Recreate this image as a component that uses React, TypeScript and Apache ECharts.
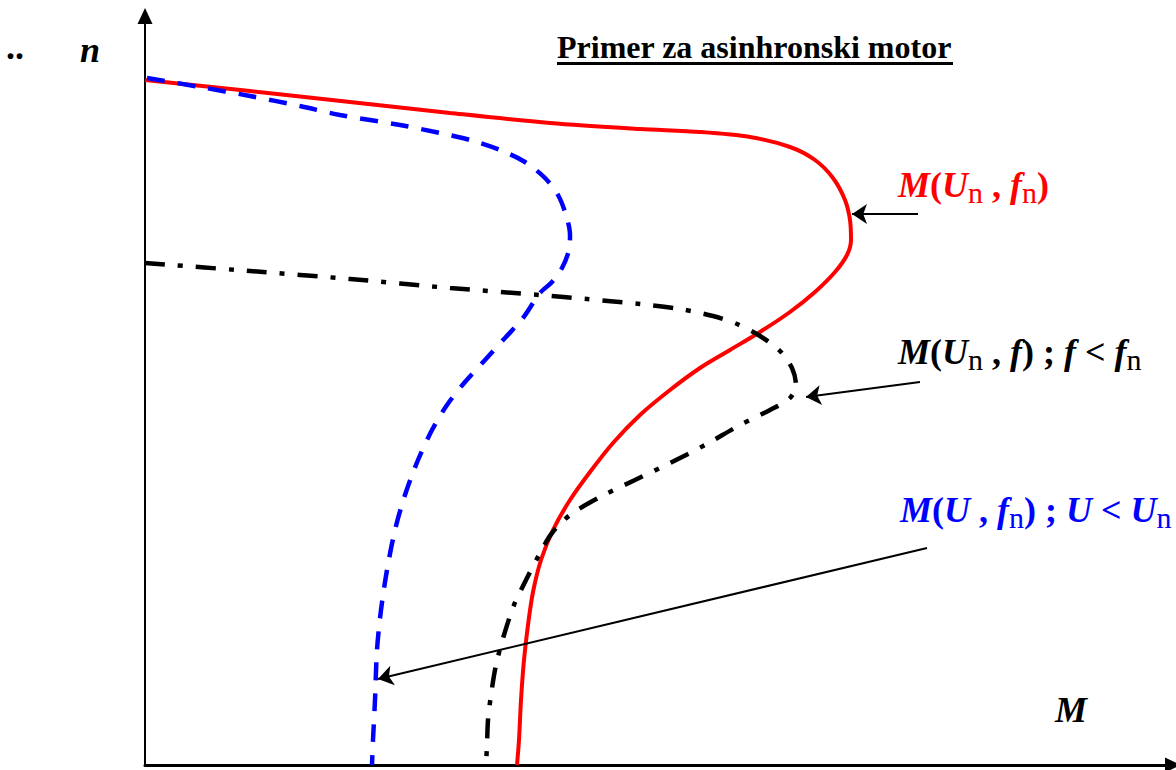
import React, { useEffect, useRef } from "react";
import * as echarts from "echarts";

// Torque–speed characteristics of an induction motor: [M, n] pairs
const nominalCurve: [number, number][] = [
  [0, 685], [105, 674], [205, 663], [305, 652], [405, 642], [495, 636], [555, 633],
  [605, 628], [645, 618], [670, 605], [688, 587], [700, 565], [705, 545], [706, 525],
  [702, 510], [690, 493], [670, 473], [645, 453], [615, 433], [585, 415], [555, 397],
  [525, 375], [495, 350], [468, 322], [445, 293], [425, 265], [408, 235], [396, 205],
  [388, 173], [383, 140], [379, 105], [376, 65], [374, 25], [372, 0],
];

const reducedVoltageCurve: [number, number][] = [
  [2, 687], [55, 678], [105, 669], [155, 659], [195, 650], [255, 640], [295, 632],
  [325, 625], [355, 615], [380, 603], [400, 587], [413, 570], [421, 550], [425, 530],
  [424, 515], [417, 497], [407, 483], [395, 472], [378, 447], [360, 427], [340, 405],
  [320, 383], [302, 360], [287, 335], [273, 305], [260, 270], [250, 235], [242, 195],
  [236, 155], [232, 115], [230, 65], [228, 25], [227, 0],
];

const reducedFrequencyCurve: [number, number][] = [
  [0, 502], [105, 494], [205, 486], [305, 477], [395, 470], [442, 466], [495, 461],
  [535, 456], [568, 449], [592, 441], [615, 429], [635, 414], [647, 397], [651, 380],
  [645, 367], [625, 355], [595, 340], [560, 320], [525, 302], [490, 285], [455, 268],
  [425, 250], [407, 232], [394, 210], [381, 185], [369, 160], [359, 130], [351, 100],
  [346, 70], [343, 45], [342, 20], [341, 0],
];

// Pointer arrows from each label to its curve: [from, to]
const pointers: [number, number][][] = [
  [[773, 551], [707, 551]],
  [[775, 383], [661, 368]],
  [[782, 217], [233, 86]],
];

const axisMax = { M: 1023, n: 749 };

const titleText = "Primer za asinhronski motor";
const nominalLabel = "{b|M}{p|(}{b|U}{s|n}{p| , }{b|f}{s|n}{p|)}";
const frequencyLabel = "{b|M}{p|(}{b|U}{s|n}{p| , }{b|f}{p|) ; }{b|f}{p| < }{b|f}{s|n}";
const voltageLabel = "{b|M}{p|(}{b|U}{p| , }{b|f}{s|n}{p|) ; }{b|U}{p| < }{b|U}{s|n}";

const SERIF = "'Liberation Serif', 'Times New Roman', serif";

function richFor(color: string) {
  return {
    b: {
      fontFamily: SERIF,
      fontSize: 36,
      fontWeight: "bold",
      fontStyle: "italic",
      lineHeight: 44,
      fill: color,
      verticalAlign: "middle",
    },
    p: {
      fontFamily: SERIF,
      fontSize: 36,
      fontWeight: "bold",
      lineHeight: 44,
      fill: color,
      verticalAlign: "middle",
    },
    s: {
      fontFamily: SERIF,
      fontSize: 30,
      fontWeight: "normal",
      lineHeight: 30,
      fill: color,
      verticalAlign: "bottom",
    },
  };
}

export default function App() {
  const ref = useRef<HTMLDivElement>(null);

  useEffect(() => {
    if (!ref.current) return;
    const chart = echarts.init(ref.current, null, { renderer: "svg" });

    chart.setOption({
      animation: false,
      backgroundColor: "#ffffff",
      grid: { left: 145, right: 8, top: 16, bottom: 5 },
      xAxis: {
        type: "value",
        min: 0,
        max: axisMax.M,
        axisLine: {
          show: true,
          lineStyle: { color: "#000", width: 3 },
          symbol: ["none", "triangle"],
          symbolSize: [15, 16],
          symbolOffset: [0, 5],
        },
        axisTick: { show: false },
        axisLabel: { show: false },
        splitLine: { show: false },
      },
      yAxis: {
        type: "value",
        min: 0,
        max: axisMax.n,
        axisLine: {
          show: true,
          lineStyle: { color: "#000", width: 2 },
          symbol: ["none", "triangle"],
          symbolSize: [15, 16],
          symbolOffset: [0, 0],
        },
        axisTick: { show: false },
        axisLabel: { show: false },
        splitLine: { show: false },
      },
      series: [
        {
          name: "M(Un, fn)",
          type: "line",
          data: nominalCurve,
          showSymbol: false,
          smooth: 0.3,
          lineStyle: { color: "#ff0000", width: 4 },
          z: 3,
        },
        {
          name: "M(U, fn)",
          type: "line",
          data: reducedVoltageCurve,
          showSymbol: false,
          smooth: 0.3,
          lineStyle: { color: "#0000ff", width: 4.5, type: [18, 13], cap: "butt" },
          z: 4,
        },
        {
          name: "M(Un, f)",
          type: "line",
          data: reducedFrequencyCurve,
          showSymbol: false,
          smooth: 0.3,
          lineStyle: { color: "#000", width: 4.5, type: [20, 13, 5, 13], cap: "butt" },
          z: 4,
        },
        {
          type: "lines",
          coordinateSystem: "cartesian2d",
          symbol: ["none", "arrow"],
          symbolSize: 15,
          lineStyle: { color: "#000", width: 2, curveness: 0, opacity: 1 },
          data: pointers.map((c) => ({ coords: c })),
          z: 5,
        },
      ],
      graphic: [
        {
          type: "text",
          x: 557,
          y: 47,
          style: {
            text: titleText,
            font: `bold 32px ${SERIF}`,
            fill: "#000",
            verticalAlign: "middle",
          },
        },
        { type: "rect", shape: { x: 557, y: 62, width: 396, height: 3 }, style: { fill: "#000" } },
        {
          type: "text",
          x: 80,
          y: 50,
          style: { text: "n", font: `italic bold 36px ${SERIF}`, fill: "#000", verticalAlign: "middle" },
        },
        {
          type: "text",
          x: 6,
          y: 47,
          style: { text: "..", font: `bold 36px ${SERIF}`, fill: "#000", verticalAlign: "middle" },
        },
        {
          type: "text",
          x: 1055,
          y: 710,
          style: { text: "M", font: `italic bold 36px ${SERIF}`, fill: "#000", verticalAlign: "middle" },
        },
        {
          type: "text",
          x: 898,
          y: 163,
          style: { text: nominalLabel, rich: richFor("#ff0000"), verticalAlign: "top", fill: "#ff0000" },
        },
        {
          type: "text",
          x: 898,
          y: 330,
          style: { text: frequencyLabel, rich: richFor("#000000"), verticalAlign: "top", fill: "#000" },
        },
        {
          type: "text",
          x: 900,
          y: 488,
          style: { text: voltageLabel, rich: richFor("#0000ff"), verticalAlign: "top", fill: "#0000ff" },
        },
      ],
    });

    return () => chart.dispose();
  }, []);

  return (
    <div
      ref={ref}
      style={{ position: "absolute", left: 0, top: 0, width: 1176, height: 770 }}
    />
  );
}
